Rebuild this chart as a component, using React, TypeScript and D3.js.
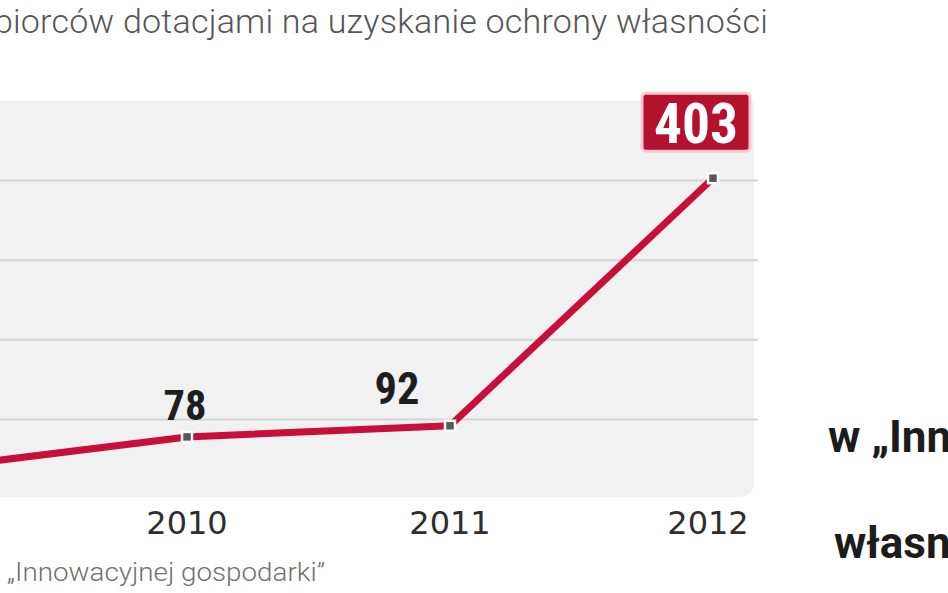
import * as d3 from "d3";

// dane (2009 wychodzi poza kadr po lewej)
const years = [2009, 2010, 2011, 2012];
const values = [37, 78, 92, 403];
const gridTicks = [100, 200, 300, 400];
const yearTicks = [2010, 2011, 2012];

const title = "przedsiębiorców dotacjami na uzyskanie ochrony własności";
const source = "„Innowacyjnej gospodarki”";
const sideLines = ["w „Innowacyjnej gospodarce”", "własności intelektualnej"];

const W = 948;
const H = 593;
const RED = "#c70f3a";
const NUM_FONT = "'Liberation Sans Narrow', 'Roboto Condensed', 'DejaVu Sans Condensed', Roboto, sans-serif";

const App = () => {
  const x = d3.scaleLinear().domain([2010, 2012]).range([187, 713]);
  const y = d3.scaleLinear().domain([0, 500]).range([499, 101]);

  const line = d3
    .line<number>()
    .x((_, i) => x(years[i]))
    .y((d) => y(d));

  const panelLeft = -20;
  const panelRight = 754;
  const panelTop = y(500);
  const panelBottom = 497;
  const r = 16;
  const panel = `M${panelLeft},${panelTop} H${panelRight} V${panelBottom - r} Q${panelRight},${panelBottom} ${panelRight - r},${panelBottom} H${panelLeft} Z`;

  const px = (yr: number) => x(yr);
  const py = (i: number) => y(values[i]);

  return (
    <svg width={W} height={H} style={{ display: "block", position: "absolute", left: 0, top: 0 }}>
      <rect width={W} height={H} fill="#ffffff" />
      <text x={768} y={33} textAnchor="end" fontFamily="Roboto" fontWeight={300} fontSize={34} letterSpacing={0.22} fill="#555555">
        {title}
      </text>

      <path d={panel} fill="#f1f1f2" />
      {gridTicks.map((t) => (
        <line key={t} x1={0} x2={758} y1={y(t)} y2={y(t)} stroke="#d4d4d4" strokeWidth={2} />
      ))}

      <path d={line(values) || ""} fill="none" stroke={RED} strokeWidth={7} strokeLinejoin="round" />
      {years.map((yr, i) => (
        <rect key={yr} x={px(yr) - 5} y={py(i) - 5} width={10} height={10} fill="#5a5a5a" stroke="#ffffff" strokeWidth={2.5} />
      ))}

      {/* etykiety wartości */}
      <text x={px(2010) - 2} y={py(1) - 17} textAnchor="middle" fontFamily={NUM_FONT} fontWeight="bold" fontSize={42} fill="#1e1e1e" textLength={43} lengthAdjust="spacingAndGlyphs">
        {values[1]}
      </text>
      <text x={px(2011) - 53} y={py(2) - 22} textAnchor="middle" fontFamily={NUM_FONT} fontWeight="bold" fontSize={44} fill="#1e1e1e" textLength={45} lengthAdjust="spacingAndGlyphs">
        {values[2]}
      </text>
      <rect x={px(2012) - 71} y={py(3) - 85} width={108} height={58} rx={4} fill="#b3112d" stroke="#f4c9cf" strokeWidth={3} />
      <text x={px(2012) - 17} y={py(3) - 35} textAnchor="middle" fontFamily={NUM_FONT} fontWeight="bold" fontSize={56} fill="#ffffff" textLength={84} lengthAdjust="spacingAndGlyphs">
        {values[3]}
      </text>

      {yearTicks.map((yr) => (
        <text key={yr} x={px(yr) - (yr === 2012 ? 5 : 0)} y={534} textAnchor="middle" fontFamily="DejaVu Sans" fontSize={32} fill="#2e2e2e">
          {yr}
        </text>
      ))}

      <text x={7} y={581} fontFamily="Roboto" fontWeight={300} fontSize={25} fill="#707070" textLength={318} lengthAdjust="spacingAndGlyphs">
        {source}
      </text>

      <text x={828} y={452} fontFamily="Roboto" fontWeight={700} fontSize={44} fill="#1c1c1c">
        {sideLines[0]}
      </text>
      <text x={834} y={558} fontFamily="Roboto" fontWeight={700} fontSize={44} fill="#1c1c1c">
        {sideLines[1]}
      </text>
    </svg>
  );
};

export default App;
